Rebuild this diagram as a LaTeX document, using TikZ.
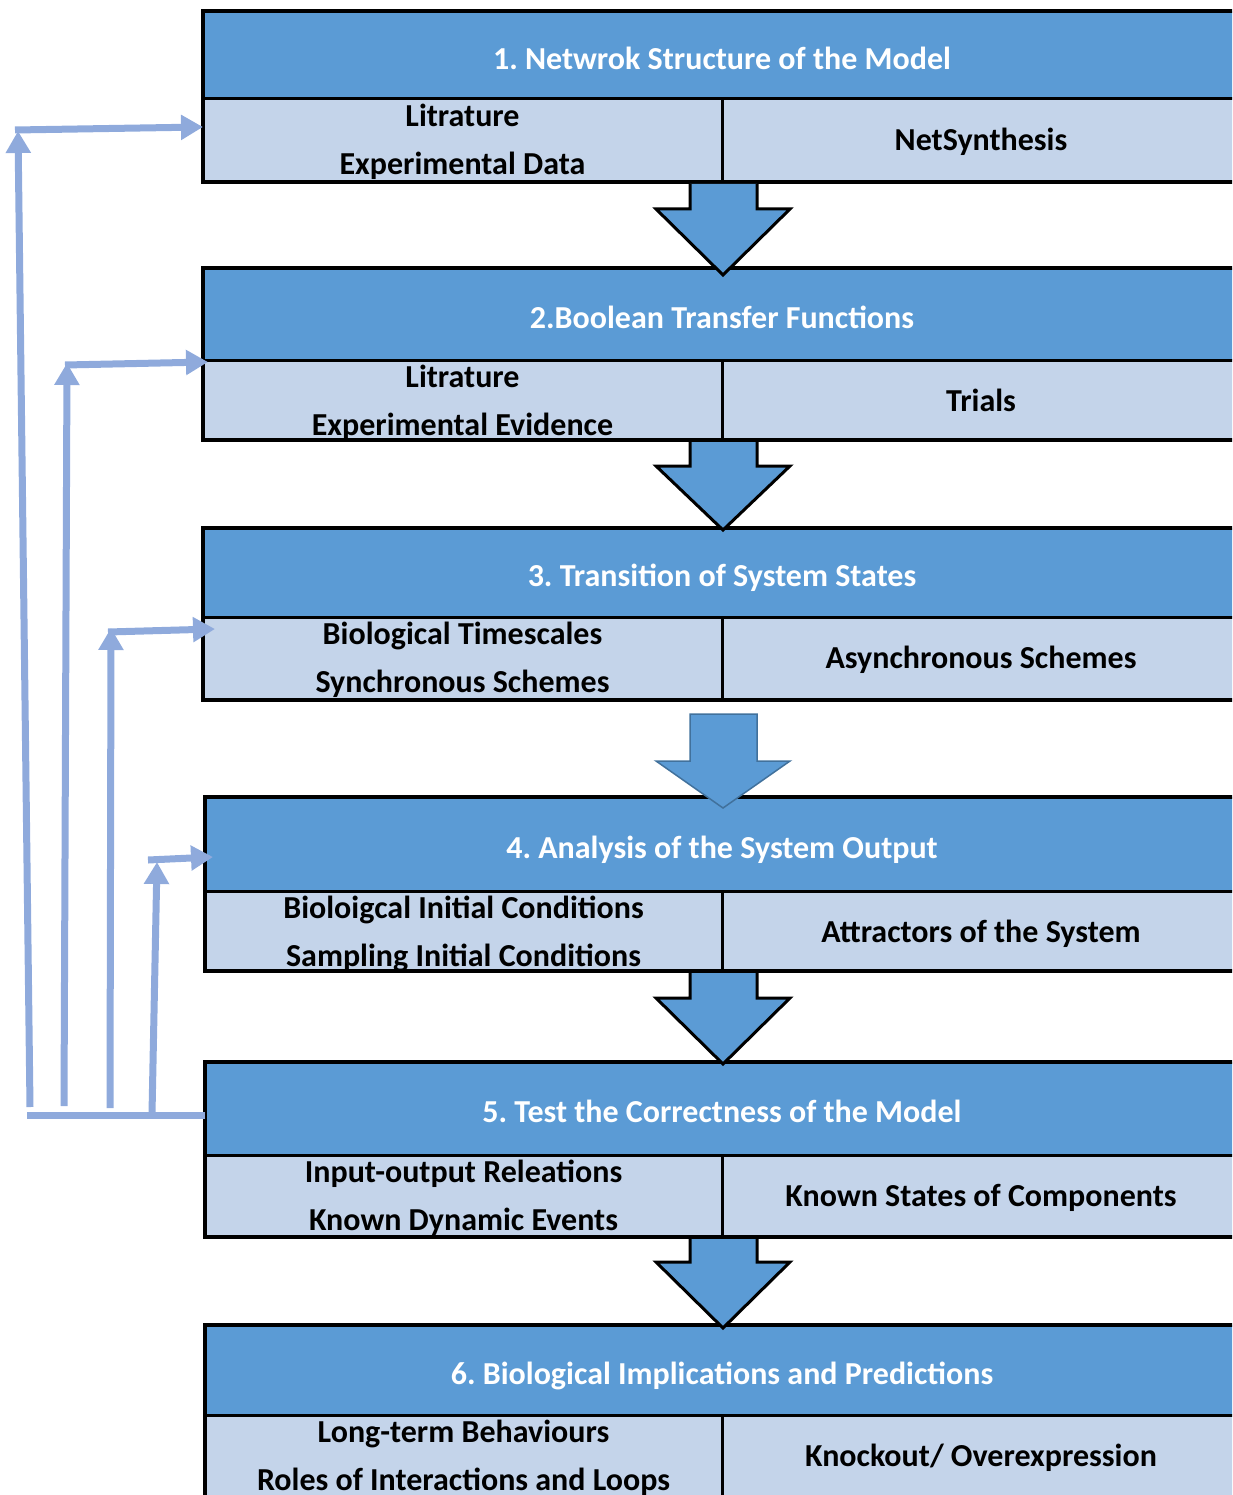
\documentclass[tikz,border=0pt]{standalone}
\usepackage{fontspec}
\setmainfont{Carlito}
\usetikzlibrary{arrows.meta}

\definecolor{hdrblue}{HTML}{5B9BD5}
\definecolor{cellblue}{HTML}{C4D4EA}
\definecolor{loopblue}{HTML}{8FAADC}
\definecolor{edgeblue}{HTML}{41719C}

\tikzset{
  frame/.style={draw=black, line width=4pt, line join=miter},
  rule/.style={draw=black, line width=3pt},
  txt/.style={font=\fontsize{32}{38}\selectfont\bfseries\frenchspacing,
              text height=20.6pt, text depth=0pt, inner sep=0pt},
  title/.style={txt, text=white},
  cell/.style={txt, text=black},
  flow/.style={fill=hdrblue, draw=black, line width=3pt, line join=miter},
  flowsoft/.style={fill=hdrblue, draw=edgeblue, line width=1.5pt, line join=miter},
  loopline/.style={draw=loopblue, line width=7pt},
  looparrow/.style={loopline, -{Triangle[length=22pt,width=24pt]}},
}

% one stage: name, left, top, header/body split, bottom, title, two left lines, right text
\newcommand\stagebox[9]{%
  \fill[hdrblue] (#2,#3) rectangle (1250,#4);
  \fill[cellblue] (#2,#4) rectangle (1250,#5);
  \draw[rule] (#2,#4) -- (1250,#4);
  \draw[rule] (722,#4) -- (722,#5);
  \draw[frame] (1250,#3) -- (#2,#3) -- (#2,#5) -- (1250,#5);
  \node[title] (#1-title) at (722,{(#3+#4)/2+4}) {#6};
  \node[cell] (#1-l1) at ({(#2+722)/2},{#4+17}) {#7};
  \node[cell] (#1-l2) at ({(#2+722)/2},{#4+65}) {#8};
  \node[cell] (#1-r) at (981,{#4+41}) {#9};
}

% downward block arrow between stages: top of shaft, head base, tip, style
\newcommand\flowarrow[4]{%
  \filldraw[#4] (757,#1) -- (757,#2) -- (790,#2) -- (723,#3)
     -- (656,#2) -- (690,#2) -- (690,#1);
}

\begin{document}
\begin{tikzpicture}[x=1pt,y=-1pt]
  \useasboundingbox (0,0) rectangle (1232,1495);
  \begin{scope}
    \clip (0,0) rectangle (1232,1495);

    \stagebox{s1}{203}{11}{99}{182}{1. Netwrok Structure of the Model}
      {Litrature}{Experimental Data}{NetSynthesis}
    \stagebox{s2}{203}{268}{360}{440}{2.Boolean Transfer Functions}
      {Litrature}{Experimental Evidence}{Trials}
    \stagebox{s3}{203}{528}{617}{700}{3. Transition of System States}
      {Biological Timescales}{Synchronous Schemes}{Asynchronous Schemes}
    \stagebox{s4}{205}{797}{891}{971}{4. Analysis of the System Output}
      {Bioloigcal Initial Conditions}{Sampling Initial Conditions}{Attractors of the System}
    \stagebox{s5}{205}{1062}{1155}{1237}{5. Test the Correctness of the Model}
      {Input-output Releations}{Known Dynamic Events}{Known States of Components}
    \stagebox{s6}{205}{1325}{1415}{1520}{6. Biological Implications and Predictions}
      {Long-term Behaviours}{Roles of Interactions and Loops}{Knockout/ Overexpression}

    % block arrows from stage to stage
    \flowarrow{184}{209}{275}{flow}
    \flowarrow{442}{466}{530}{flow}
    \filldraw[flowsoft] (757,714) -- (757,761) -- (790,761) -- (723,808)
       -- (656,761) -- (690,761) -- (690,714) -- cycle;
    \flowarrow{973}{998}{1064}{flow}
    \flowarrow{1239}{1262}{1328}{flow}

    % feedback from stage 5 back to the earlier stages
    \coordinate (fb-start) at (205,1115);
    \coordinate (fb-end) at (27,1115);
    \draw[loopline] (fb-start) -- (fb-end);

    \coordinate (fa-foot) at (30,1107);
    \coordinate (fa-corner) at (18,131);
    \coordinate (fa-from) at (15,130);
    \coordinate (fa-to) at (203,127);
    \draw[looparrow] (fa-foot) -- (fa-corner);
    \draw[looparrow] (fa-from) -- (fa-to);

    \coordinate (fbb-foot) at (64,1106);
    \coordinate (fbb-corner) at (67,363);
    \coordinate (fbb-from) at (65,365);
    \coordinate (fbb-to) at (208,362);
    \draw[looparrow] (fbb-foot) -- (fbb-corner);
    \draw[looparrow] (fbb-from) -- (fbb-to);

    \coordinate (fc-foot) at (110,1108);
    \coordinate (fc-corner) at (111,628);
    \coordinate (fc-from) at (108,632);
    \coordinate (fc-to) at (215,629);
    \draw[looparrow] (fc-foot) -- (fc-corner);
    \draw[looparrow] (fc-from) -- (fc-to);

    \coordinate (fd-foot) at (152,1114);
    \coordinate (fd-corner) at (157,862);
    \coordinate (fd-from) at (148,860);
    \coordinate (fd-to) at (213,857);
    \draw[looparrow] (fd-foot) -- (fd-corner);
    \draw[looparrow] (fd-from) -- (fd-to);
  \end{scope}
\end{tikzpicture}
\end{document}
